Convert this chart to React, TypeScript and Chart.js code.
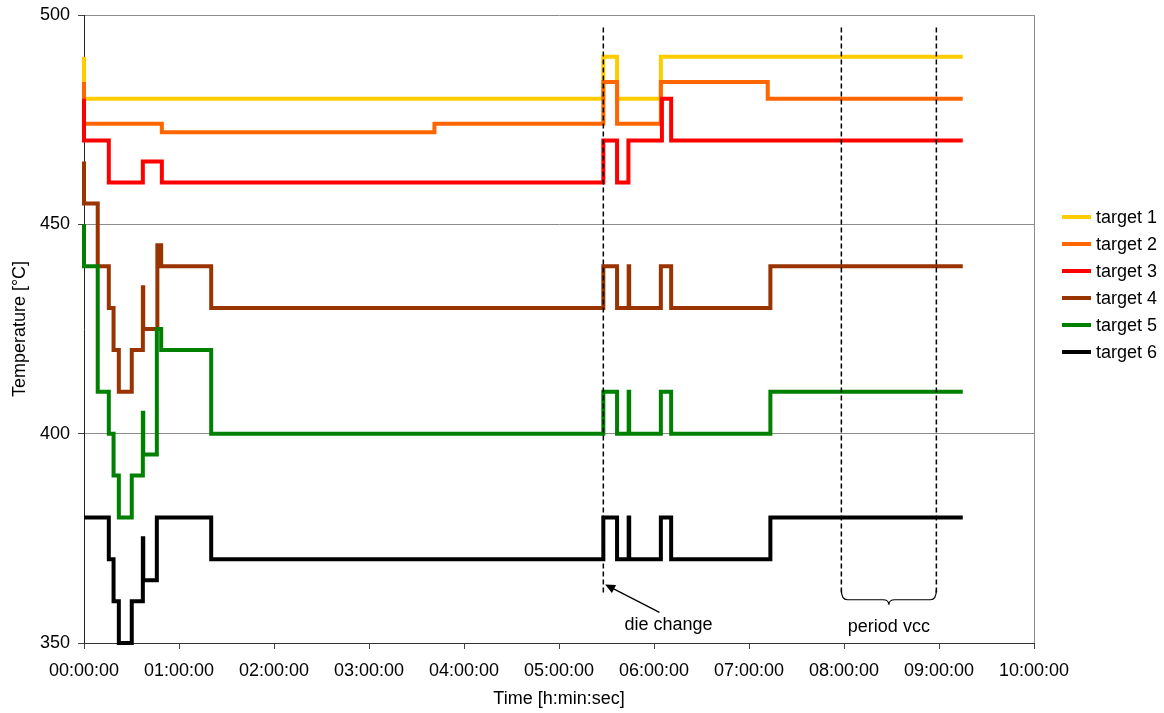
import React, { useEffect, useRef } from "react";
import { Chart, registerables } from "chart.js";

Chart.register(...registerables);

// Set-point programme per target: change times in seconds and the value (°C)
// that holds from that moment until the next change.
const seriesLabels = ["target 1", "target 2", "target 3", "target 4", "target 5", "target 6"];
const seriesColors = ["#FFCC00", "#FF6600", "#FF0000", "#993300", "#008000", "#000000"];

const target1Times = [0, 0, 19680, 20200, 21860, 33300];
const target1Values = [490, 480, 490, 480, 490, 490];

const target2Times = [0, 0, 2950, 13280, 19680, 20200, 21860, 25910, 33300];
const target2Values = [484, 474, 472, 474, 484, 474, 484, 480, 480];

const target3Times = [0, 0, 940, 2230, 2950, 19680, 20200, 20630, 21900, 22250, 33300];
const target3Values = [480, 470, 460, 465, 460, 470, 460, 470, 480, 470, 470];

const target4Times = [0, 0, 520, 940, 1120, 1320, 1810, 2230, 2245, 2780, 2925, 4820, 19680, 20200, 20640, 20660, 21860, 22250, 26010, 33300];
const target4Values = [465, 455, 440, 430, 420, 410, 420, 435, 425, 445, 440, 430, 440, 430, 440, 430, 440, 430, 440, 440];

const target5Times = [0, 0, 520, 940, 1120, 1320, 1810, 2230, 2245, 2760, 2925, 4820, 19680, 20200, 20640, 20660, 21860, 22250, 26010, 33300];
const target5Values = [450, 440, 410, 400, 390, 380, 390, 405, 395, 425, 420, 400, 410, 400, 410, 400, 410, 400, 410, 410];

const target6Times = [0, 940, 1120, 1320, 1810, 2230, 2245, 2760, 4820, 19680, 20200, 20640, 20660, 21860, 22250, 26010, 33300];
const target6Values = [380, 370, 360, 350, 360, 375, 365, 380, 370, 380, 370, 380, 370, 380, 370, 380, 380];

const seriesTimes = [target1Times, target2Times, target3Times, target4Times, target5Times, target6Times];
const seriesValues = [target1Values, target2Values, target3Values, target4Values, target5Values, target6Values];

// Axes
const timeMin = 0;
const timeMax = 36000;
const timeStep = 3600;
const tempMin = 350;
const tempMax = 500;
const tempStep = 50;

// Annotations (time in s, temperature in °C)
const dieChangeTime = 19680;
const vccPeriodStart = 28700;
const vccPeriodEnd = 32300;
const markerTop = 497;
const markerBottom = 362;
const dieChangeText = "die change";
const dieChangeTextAt = { x: 22150, y: 354.3 };
const dieChangeArrowFrom = { x: 21806, y: 357.3 };
const dieChangeArrowTo = { x: 19748, y: 364 };
const periodText = "period vcc";
const periodTextY = 353.9;

const FONT = 'Arial, "Liberation Sans", sans-serif';

const pad2 = (n: number) => String(n).padStart(2, "0");
const formatClock = (s: number) =>
  `${pad2(Math.floor(s / 3600))}:${pad2(Math.floor((s % 3600) / 60))}:${pad2(Math.round(s % 60))}`;

const annotationPlugin = {
  id: "processMarks",
  afterDatasetsDraw(chart: any) {
    const { ctx, chartArea, scales } = chart;
    const xs = scales.x;
    const ys = scales.y;
    ctx.save();

    // right edge of the plot frame
    ctx.strokeStyle = "#8c8c8c";
    ctx.lineWidth = 1;
    ctx.beginPath();
    ctx.moveTo(Math.round(chartArea.right) + 0.5, chartArea.top);
    ctx.lineTo(Math.round(chartArea.right) + 0.5, chartArea.bottom);
    ctx.stroke();

    // dashed markers
    ctx.strokeStyle = "#000";
    ctx.lineWidth = 1.5;
    ctx.setLineDash([5, 3]);
    const yTop = ys.getPixelForValue(markerTop);
    const yBot = ys.getPixelForValue(markerBottom);
    for (const t of [dieChangeTime, vccPeriodStart, vccPeriodEnd]) {
      const px = xs.getPixelForValue(t);
      ctx.beginPath();
      ctx.moveTo(px, yTop);
      ctx.lineTo(px, yBot);
      ctx.stroke();
    }
    ctx.setLineDash([]);

    // curly brace under the vcc period
    const xl = xs.getPixelForValue(vccPeriodStart);
    const xr = xs.getPixelForValue(vccPeriodEnd);
    const xm = (xl + xr) / 2;
    const yb = yBot + 7;
    ctx.lineWidth = 1.2;
    ctx.beginPath();
    ctx.moveTo(xl, yBot - 3);
    ctx.quadraticCurveTo(xl, yb, xl + 6, yb);
    ctx.lineTo(xm - 6, yb);
    ctx.quadraticCurveTo(xm, yb, xm, yb + 5);
    ctx.quadraticCurveTo(xm, yb, xm + 6, yb);
    ctx.lineTo(xr - 6, yb);
    ctx.quadraticCurveTo(xr, yb, xr, yBot - 3);
    ctx.stroke();

    // arrow pointing at the die change
    const ax0 = xs.getPixelForValue(dieChangeArrowFrom.x);
    const ay0 = ys.getPixelForValue(dieChangeArrowFrom.y);
    const ax1 = xs.getPixelForValue(dieChangeArrowTo.x);
    const ay1 = ys.getPixelForValue(dieChangeArrowTo.y);
    const ang = Math.atan2(ay1 - ay0, ax1 - ax0);
    const headLen = 10;
    const headHalf = 4.5;
    ctx.lineWidth = 1.3;
    ctx.beginPath();
    ctx.moveTo(ax0, ay0);
    ctx.lineTo(ax1 - Math.cos(ang) * headLen * 0.8, ay1 - Math.sin(ang) * headLen * 0.8);
    ctx.stroke();
    ctx.fillStyle = "#000";
    ctx.beginPath();
    ctx.moveTo(ax1, ay1);
    ctx.lineTo(
      ax1 - Math.cos(ang) * headLen - Math.sin(ang) * headHalf,
      ay1 - Math.sin(ang) * headLen + Math.cos(ang) * headHalf
    );
    ctx.lineTo(
      ax1 - Math.cos(ang) * headLen + Math.sin(ang) * headHalf,
      ay1 - Math.sin(ang) * headLen - Math.cos(ang) * headHalf
    );
    ctx.closePath();
    ctx.fill();

    // labels
    ctx.font = `18px ${FONT}`;
    ctx.textAlign = "center";
    ctx.textBaseline = "middle";
    ctx.fillStyle = "#000";
    ctx.fillText(dieChangeText, xs.getPixelForValue(dieChangeTextAt.x), ys.getPixelForValue(dieChangeTextAt.y));
    ctx.fillText(periodText, xm, ys.getPixelForValue(periodTextY));

    ctx.restore();
  },
  afterDraw(chart: any) {
    // legend to the right of the plot
    const { ctx, chartArea } = chart;
    ctx.save();
    ctx.font = `18px ${FONT}`;
    ctx.textAlign = "left";
    ctx.textBaseline = "middle";
    const x0 = chartArea.right + 28;
    const y0 = chartArea.top + 202;
    const rowGap = 27;
    chart.data.datasets.forEach((ds: any, i: number) => {
      const y = y0 + i * rowGap;
      ctx.strokeStyle = ds.borderColor;
      ctx.lineWidth = 4;
      ctx.beginPath();
      ctx.moveTo(x0, y);
      ctx.lineTo(x0 + 29, y);
      ctx.stroke();
      ctx.fillStyle = "#000";
      ctx.fillText(ds.label, x0 + 34, y + 1);
    });
    ctx.restore();
  },
};

export default function App() {
  const canvasRef = useRef<HTMLCanvasElement | null>(null);

  useEffect(() => {
    document.body.style.margin = "0";
    const canvas = canvasRef.current;
    if (!canvas) return;

    const datasets = seriesLabels.map((label, i) => ({
      label,
      data: seriesTimes[i].map((t, k) => ({ x: t, y: seriesValues[i][k] })),
      borderColor: seriesColors[i],
      backgroundColor: seriesColors[i],
      borderWidth: 4,
      pointRadius: 0,
      showLine: true,
      stepped: true,
      fill: false,
      borderJoinStyle: "miter" as const,
      clip: 6,
      order: seriesLabels.length - 1 - i,
    }));

    const chart = new Chart(canvas, {
      type: "scatter",
      data: { datasets },
      options: {
        responsive: false,
        animation: false,
        events: [],
        layout: { padding: { top: 15, right: 130, left: 0, bottom: 0 } },
        plugins: {
          legend: { display: false },
          tooltip: { enabled: false },
        },
        scales: {
          x: {
            type: "linear",
            min: timeMin,
            max: timeMax,
            afterFit: (scale: any) => {
              scale.height = 70;
              scale.paddingLeft = 0;
              scale.paddingRight = 0;
            },
            afterBuildTicks: (scale: any) => {
              const ticks = [];
              for (let v = timeMin; v <= timeMax; v += timeStep) ticks.push({ value: v });
              scale.ticks = ticks;
            },
            ticks: {
              color: "#000",
              font: { family: FONT, size: 18 },
              padding: 11,
              maxRotation: 0,
              autoSkip: false,
              callback: (v: any) => formatClock(Number(v)),
            },
            grid: {
              drawOnChartArea: false,
              drawTicks: true,
              tickLength: 6,
              tickColor: "#444",
            },
            border: { color: "#333", width: 1 },
            title: {
              display: true,
              text: "Time [h:min:sec]",
              color: "#000",
              font: { family: FONT, size: 18 },
              padding: { top: 0, bottom: 3 },
            },
          },
          y: {
            type: "linear",
            min: tempMin,
            max: tempMax,
            afterFit: (scale: any) => {
              scale.width = 84;
              scale.paddingTop = 0;
              scale.paddingBottom = 0;
            },
            ticks: {
              stepSize: tempStep,
              color: "#000",
              font: { family: FONT, size: 18 },
              padding: 8,
            },
            grid: {
              color: "#8c8c8c",
              lineWidth: 1,
              tickLength: 6,
              tickColor: "#444",
            },
            border: { color: "#222", width: 1 },
            title: {
              display: true,
              text: "Temperature [°C]",
              color: "#000",
              font: { family: FONT, size: 18 },
              padding: { top: 9, bottom: 0 },
            },
          },
        },
      },
      plugins: [annotationPlugin],
    });

    return () => chart.destroy();
  }, []);

  return (
    <div style={{ position: "absolute", left: 0, top: 0, width: 1164, height: 713, background: "#fff" }}>
      <canvas ref={canvasRef} width={1164} height={713} style={{ display: "block" }} />
    </div>
  );
}
